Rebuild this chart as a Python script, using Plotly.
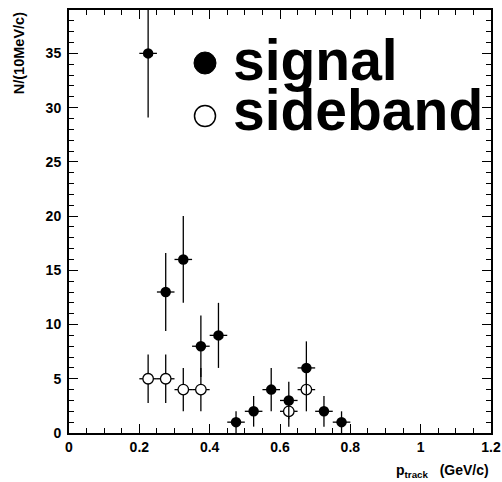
import numpy as np
import plotly.graph_objects as go

# Data
sig_x = [0.225, 0.275, 0.325, 0.375, 0.425, 0.475, 0.525, 0.575, 0.625, 0.675, 0.725, 0.775]
sig_y = [35, 13, 16, 8, 9, 1, 2, 4, 3, 6, 2, 1]
sb_x = [0.225, 0.275, 0.325, 0.375, 0.625, 0.675]
sb_y = [5, 5, 4, 4, 2, 4]
bin_half = 0.025

sig_err = [float(np.sqrt(v)) for v in sig_y]
sb_err = [float(np.sqrt(v)) for v in sb_y]

FONT = "Liberation Sans"

fig = go.Figure()
fig.add_trace(go.Scatter(
    x=sb_x, y=sb_y, mode="markers", name="sideband",
    marker=dict(symbol="circle", size=10.5, color="white", line=dict(color="black", width=1.3)),
    error_y=dict(type="data", array=sb_err, visible=True, color="black", thickness=1.3, width=0),
    error_x=dict(type="constant", value=bin_half, visible=True, color="black", thickness=1.3, width=0),
))
fig.add_trace(go.Scatter(
    x=sig_x, y=sig_y, mode="markers", name="signal",
    marker=dict(symbol="circle", size=10.5, color="black", line=dict(color="black", width=0)),
    error_y=dict(type="data", array=sig_err, visible=True, color="black", thickness=1.3, width=0),
    error_x=dict(type="constant", value=bin_half, visible=True, color="black", thickness=1.3, width=0),
))

axis_common = dict(
    showgrid=False, zeroline=False, showline=True, linecolor="black", linewidth=2,
    mirror="ticks", ticks="inside", tickcolor="black", tickwidth=1.3, automargin=False,
    tickfont=dict(family=FONT, size=14, color="black", weight="bold"),
)

fig.update_xaxes(
    range=[0, 1.2], dtick=0.2, tick0=0, ticklen=9, tickformat="~g",
    minor=dict(dtick=0.05, ticks="inside", ticklen=5, tickcolor="black", tickwidth=1.3, showgrid=False),
    **axis_common,
)
fig.update_yaxes(
    range=[0, 39], dtick=5, tick0=0, ticklen=9, ticklabelstandoff=3,
    minor=dict(dtick=1, ticks="inside", ticklen=5, tickcolor="black", tickwidth=1.3, showgrid=False),
    **axis_common,
)

# Legend (drawn manually)
fig.add_shape(type="circle", xref="paper", yref="paper", xsizemode="pixel", ysizemode="pixel",
              xanchor=(205 - 69) / 422, yanchor=(433 - 63) / 423,
              x0=-11, x1=11, y0=-11, y1=11, fillcolor="black", line=dict(color="black", width=1))
fig.add_shape(type="circle", xref="paper", yref="paper", xsizemode="pixel", ysizemode="pixel",
              xanchor=(205 - 69) / 422, yanchor=(433 - 116) / 423,
              x0=-10.5, x1=10.5, y0=-10.5, y1=10.5, fillcolor="white", line=dict(color="black", width=1.5))
fig.add_annotation(text="signal", xref="paper", yref="paper",
                   x=(231 - 69) / 422, y=(433 - 60) / 423, xanchor="left", yanchor="middle",
                   showarrow=False, font=dict(family=FONT, size=57, color="black", weight="bold"))
fig.add_annotation(text="sideband", xref="paper", yref="paper",
                   x=(231 - 69) / 422, y=(433 - 110) / 423, xanchor="left", yanchor="middle",
                   showarrow=False, font=dict(family=FONT, size=57, color="black", weight="bold"))

# Axis titles
fig.add_annotation(text="N/(10MeV/c)", xref="paper", yref="paper", x=-0.118, y=1.0,
                   xanchor="center", yanchor="top", textangle=-90, showarrow=False,
                   font=dict(family=FONT, size=14.5, color="black", weight="bold"))
fig.add_annotation(text="p<sub>track</sub>   (GeV/c)", xref="paper", yref="paper", x=1.0, y=-0.065,
                   xanchor="right", yanchor="top", showarrow=False,
                   font=dict(family=FONT, size=14, color="black", weight="bold"))

fig.update_layout(
    width=502, height=482, margin=dict(l=69, r=11, t=10, b=49, autoexpand=False),
    paper_bgcolor="white", plot_bgcolor="white", showlegend=False,
)

fig.write_html("out.html")
